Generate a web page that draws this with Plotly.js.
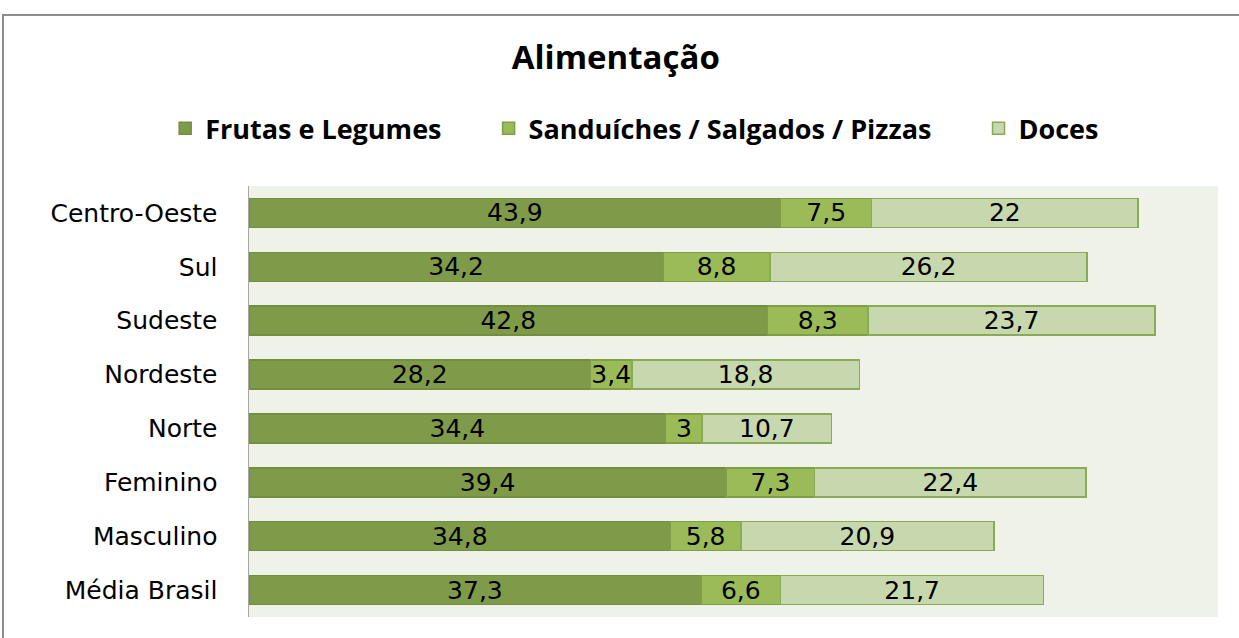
<!DOCTYPE html>
<html><head><meta charset="utf-8">
<script src="https://cdn.plot.ly/plotly-3.0.1.min.js"></script>
<style>html,body{margin:0;padding:0;background:#fff;}#chart{width:1239px;height:638px;}</style>
</head><body><div id="chart"></div>
<script>
const categories = ['Centro-Oeste','Sul','Sudeste','Nordeste','Norte','Feminino','Masculino','Média Brasil'];
const seriesNames = ['Frutas e Legumes','Sanduíches / Salgados / Pizzas','Doces'];
const frutas = [43.9, 34.2, 42.8, 28.2, 34.4, 39.4, 34.8, 37.3];
const sanduiches = [7.5, 8.8, 8.3, 3.4, 3, 7.3, 5.8, 6.6];
const doces = [22, 26.2, 23.7, 18.8, 10.7, 22.4, 20.9, 21.7];

const colors = ['#7F9A48', '#9BBB59', '#C7D8AE'];
const lineColors = ['#748E40', '#7F9E45', '#8BAA55'];
const fmt = v => String(v).replace('.', ',');
const pad = '\u00a0'.repeat(6);

const traces = [frutas, sanduiches, doces].map((vals, i) => ({
  type: 'bar', orientation: 'h',
  name: seriesNames[i] + (i < 2 ? pad : ''),
  y: categories, x: vals,
  text: vals.map(fmt),
  textposition: 'inside', insidetextanchor: 'middle', textangle: 0,
  constraintext: 'none',
  textfont: {family: 'DejaVu Sans', size: 25, color: '#000'},
  marker: {color: colors[i], line: {color: lineColors[i], width: 1.5}},
  width: 0.54,
  hoverinfo: 'none'
}));

const layout = {
  width: 1239, height: 638,
  barmode: 'stack',
  margin: {l: 249, r: 21, t: 186, b: 21},
  paper_bgcolor: '#fff', plot_bgcolor: '#EFF2E8',
  title: {text: '<b>Alimentação</b>', font: {family: 'Open Sans', size: 33, color: '#000'}, x: 0.497, xanchor: 'center', y: 0.91, yanchor: 'middle'},
  showlegend: true,
  legend: {orientation: 'h', x: 0.398, xanchor: 'center', y: 1.133, yanchor: 'middle',
    font: {family: 'Open Sans', size: 27, color: '#000', weight: 'bold'}, traceorder: 'normal', itemwidth: 30},
  xaxis: {range: [0, 80], showgrid: false, zeroline: false, showticklabels: false, ticks: '', showline: false, fixedrange: true},
  yaxis: {autorange: 'reversed', showgrid: false, zeroline: false, showline: true, linecolor: '#A6A6A6', linewidth: 1.5,
    ticks: '', ticklen: 0, tickfont: {family: 'DejaVu Sans', size: 25, color: '#000'}, ticklabelstandoff: 25},
  shapes: [{type: 'rect', xref: 'paper', yref: 'paper', x0: -0.2539, x1: 1.2, y0: -0.2, y1: 1.3968,
    line: {color: '#8C8C8C', width: 2}, fillcolor: 'rgba(0,0,0,0)', layer: 'above'}]
};

Plotly.newPlot('chart', traces, layout, {displayModeBar: false, staticPlot: true});
</script></body></html>
